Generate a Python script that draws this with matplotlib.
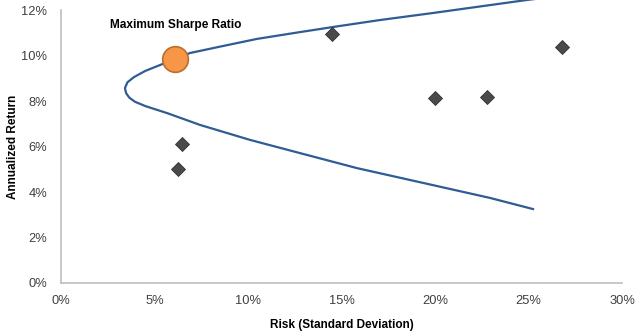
import matplotlib
matplotlib.use("Agg")
import matplotlib.pyplot as plt
from matplotlib.ticker import FuncFormatter

# Efficient frontier (risk %, return %)
frontier_risk = [25.3, 24.9, 19.9, 17.06, 14.92, 12.78, 10.48, 8.5, 6.90, 6.10, 5.29, 4.5, 3.9, 3.55, 3.42,
                 3.48, 3.65, 3.95, 4.5, 5.67, 7.43, 10.11, 12.78, 15.83, 19.36, 22.94, 25.24]
frontier_return = [12.48, 12.44, 11.87, 11.56, 11.30, 11.03, 10.73, 10.39, 10.11, 9.85, 9.58, 9.32, 9.05, 8.82, 8.57,
                   8.35, 8.15, 7.97, 7.78, 7.47, 6.95, 6.29, 5.71, 5.05, 4.40, 3.74, 3.25]

# Individual assets
asset_risk = [6.47, 6.26, 14.5, 20.0, 22.8, 26.8]
asset_return = [6.11, 5.01, 10.95, 8.13, 8.18, 10.37]

# Maximum Sharpe ratio portfolio
msr_risk = [6.10]
msr_return = [9.85]
msr_label = "Maximum Sharpe Ratio"

x_ticks = [0, 5, 10, 15, 20, 25, 30]
y_ticks = [0, 2, 4, 6, 8, 10, 12]

plt.rcParams['font.family'] = ['Liberation Sans', 'DejaVu Sans']

fig = plt.figure(figsize=(6.4, 3.34), dpi=100)
ax = fig.add_axes([0.0953, 0.1527, 0.8766, 0.8173])

ax.plot(frontier_risk, frontier_return, color='#2F5C93', lw=1.6, clip_on=False, zorder=2)
ax.plot(asset_risk, asset_return, linestyle='none', marker='D', markersize=7.5,
        markerfacecolor='#4A4A4A', markeredgecolor='#333333', markeredgewidth=0.6, zorder=3)
ax.plot(msr_risk, msr_return, linestyle='none', marker='o', markersize=18.5,
        markerfacecolor='#F79646', markeredgecolor='#B8702F', markeredgewidth=1.2, zorder=4)
ax.text(2.62, 11.34, msr_label, fontsize=8.6, fontweight='bold', color='#000000',
        ha='left', va='center')

ax.set_xlim(0, 30)
ax.set_ylim(0, 12)
ax.set_xticks(x_ticks)
ax.set_yticks(y_ticks)
ax.xaxis.set_major_formatter(FuncFormatter(lambda v, p: f"{v:.0f}%"))
ax.yaxis.set_major_formatter(FuncFormatter(lambda v, p: f"{v:.0f}%"))
ax.tick_params(axis='both', length=0, labelsize=9.3, labelcolor='#404040')
ax.tick_params(axis='x', pad=9)
ax.tick_params(axis='y', pad=10)

for s in ['top', 'right']:
    ax.spines[s].set_visible(False)
for s in ['left', 'bottom']:
    ax.spines[s].set_color('#BFBFBF')
    ax.spines[s].set_linewidth(1.2)

ax.set_xlabel("Risk (Standard Deviation)", fontsize=8.5, fontweight='bold', labelpad=8)
ax.set_ylabel("Annualized Return", fontsize=8.5, fontweight='bold')
ax.yaxis.set_label_coords(-0.075, 0.5)

fig.savefig("out.png", dpi=100)
